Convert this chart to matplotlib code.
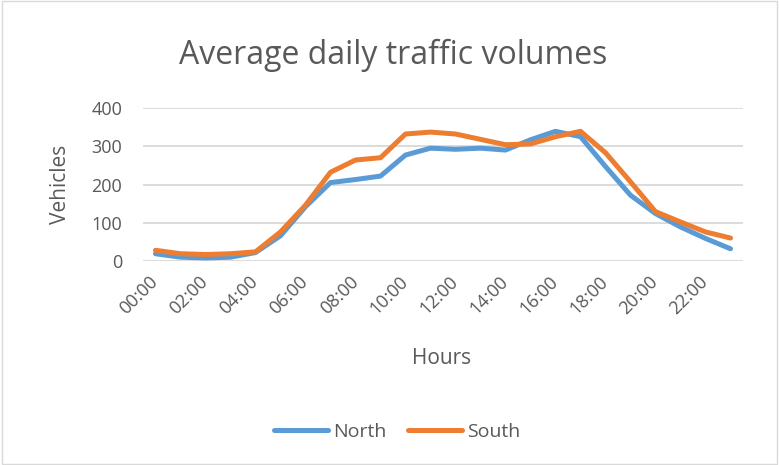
import matplotlib
matplotlib.use("Agg")
import matplotlib.pyplot as plt
from matplotlib.patches import Rectangle

hours = ["%02d:00" % h for h in range(24)]
north = [19, 10, 8, 10, 22, 66, 142, 205, 213, 222, 277, 295,
         292, 295, 290, 317, 339, 325, 247, 172, 124, 89, 59, 32]
south = [28, 19, 17, 19, 24, 76, 146, 232, 264, 270, 332, 337,
         332, 318, 304, 306, 325, 339, 283, 207, 129, 102, 76, 60]

plt.rcParams['font.family'] = ['Open Sans', 'DejaVu Sans']
grey = '#595959'

fig = plt.figure(figsize=(7.79, 4.65), dpi=100)
ax = fig.add_axes([143 / 779, 1 - 261 / 465, 600 / 779, 153 / 465])

x = list(range(len(hours)))
ax.plot(x, north, color='#5B9BD5', lw=3.6, label='North', solid_capstyle='round', solid_joinstyle='round')
ax.plot(x, south, color='#ED7D31', lw=3.6, label='South', solid_capstyle='round', solid_joinstyle='round')

ax.set_xlim(-0.5, 23.5)
ax.set_ylim(0, 400)
ax.set_yticks([0, 100, 200, 300, 400])
ax.set_xticks(x[::2])
ax.set_xticklabels(hours[::2], rotation=45, ha='right', va='center', rotation_mode='anchor')
ax.tick_params(axis='both', length=0, labelsize=13, colors=grey)
ax.tick_params(axis='y', pad=15)
ax.tick_params(axis='x', pad=13)
ax.grid(axis='y', color='#d9d9d9', lw=1.3)
ax.set_axisbelow(True)
for s in ax.spines.values():
    s.set_visible(False)

fig.text(60 / 779, 1 - 184 / 465, 'Vehicles', fontsize=15, color=grey,
         rotation=90, ha='center', va='center')
fig.text(442 / 779, 1 - 358 / 465, 'Hours', fontsize=15, color=grey,
         ha='center', va='center')
fig.text(393 / 779, 1 - 55 / 465, 'Average daily traffic volumes', fontsize=23,
         color=grey, ha='center', va='center')

fig.legend(loc='center', bbox_to_anchor=(397 / 779, 1 - 432 / 465), ncol=2,
           frameon=False, fontsize=14, labelcolor=grey, handlelength=2.8,
           columnspacing=1.1, handletextpad=0.25)

fig.patches.append(Rectangle((0.002, 0.002), 0.996, 0.996, transform=fig.transFigure,
                             fill=False, edgecolor='#d9d9d9', lw=1))

fig.savefig('out.png', dpi=100)
